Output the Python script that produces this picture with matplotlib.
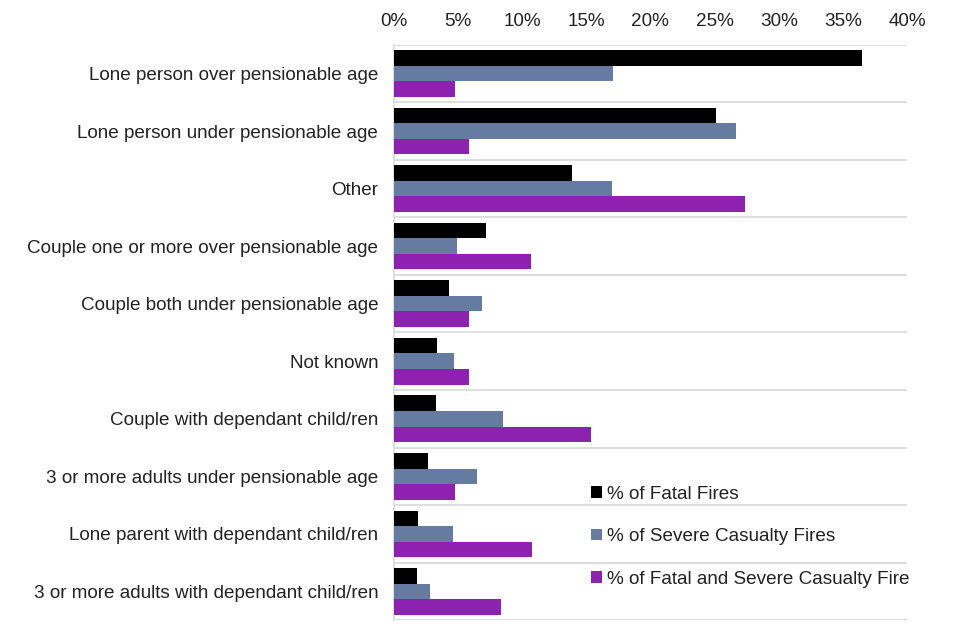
import matplotlib
matplotlib.use("Agg")
import matplotlib.pyplot as plt
import numpy as np
from matplotlib.ticker import FuncFormatter

categories = [
    "Lone person over pensionable age",
    "Lone person under pensionable age",
    "Other",
    "Couple one or more over pensionable age",
    "Couple both under pensionable age",
    "Not known",
    "Couple with dependant child/ren",
    "3 or more adults under pensionable age",
    "Lone parent with dependant child/ren",
    "3 or more adults with dependant child/ren",
]
fatal = [36.5, 25.1, 13.9, 7.2, 4.3, 3.4, 3.3, 2.7, 1.9, 1.8]
severe = [17.1, 26.7, 17.0, 4.9, 6.9, 4.7, 8.5, 6.5, 4.6, 2.8]
combined = [4.8, 5.9, 27.4, 10.7, 5.9, 5.9, 15.4, 4.8, 10.8, 8.4]
series_labels = ["% of Fatal Fires", "% of Severe Casualty Fires",
                 "% of Fatal and Severe Casualty Fire"]
colors = ["#000000", "#657ca0", "#8e22b0"]
xticks = [0, 5, 10, 15, 20, 25, 30, 35, 40]

plt.rcParams['font.family'] = ['Liberation Sans', 'DejaVu Sans']
FS = 13.6

fig = plt.figure(figsize=(9.6, 6.4), dpi=100)
ax = fig.add_axes([0.41, 0.031, 0.535, 0.899])

n = len(categories)
y = np.arange(n)
h = 0.27
for i, (vals, c, lab) in enumerate(zip([fatal, severe, combined], colors, series_labels)):
    ax.barh(y + (i - 1) * h, vals, height=h, color=c, label=lab, zorder=3)

ax.set_ylim(n - 0.5, -0.5)
ax.set_xlim(0, 40)
ax.set_yticks(y)
ax.set_yticklabels(categories, fontsize=FS, color="#222222")
ax.set_xticks(xticks)
ax.xaxis.set_major_formatter(FuncFormatter(lambda v, p: f"{v:.0f}%"))
ax.xaxis.tick_top()
ax.tick_params(axis='x', length=0, pad=10.5, labelsize=FS, labelcolor="#222222")
ax.tick_params(axis='y', length=0, pad=11)

for b in np.arange(-0.5, n, 1.0):
    ax.axhline(b, color="#d9d9d9", lw=1.2, zorder=1)

for s in ["top", "right", "bottom"]:
    ax.spines[s].set_visible(False)
ax.spines["left"].set_color("#d9d9d9")
ax.spines["left"].set_linewidth(1.2)

leg = ax.legend(loc="lower left", bbox_to_anchor=(0.37, 0.043), frameon=False,
                fontsize=FS, handlelength=0.55, handleheight=0.55,
                handletextpad=0.3, labelspacing=1.35, borderaxespad=0)
for t in leg.get_texts():
    t.set_color("#222222")

fig.savefig("out.png", dpi=100)
